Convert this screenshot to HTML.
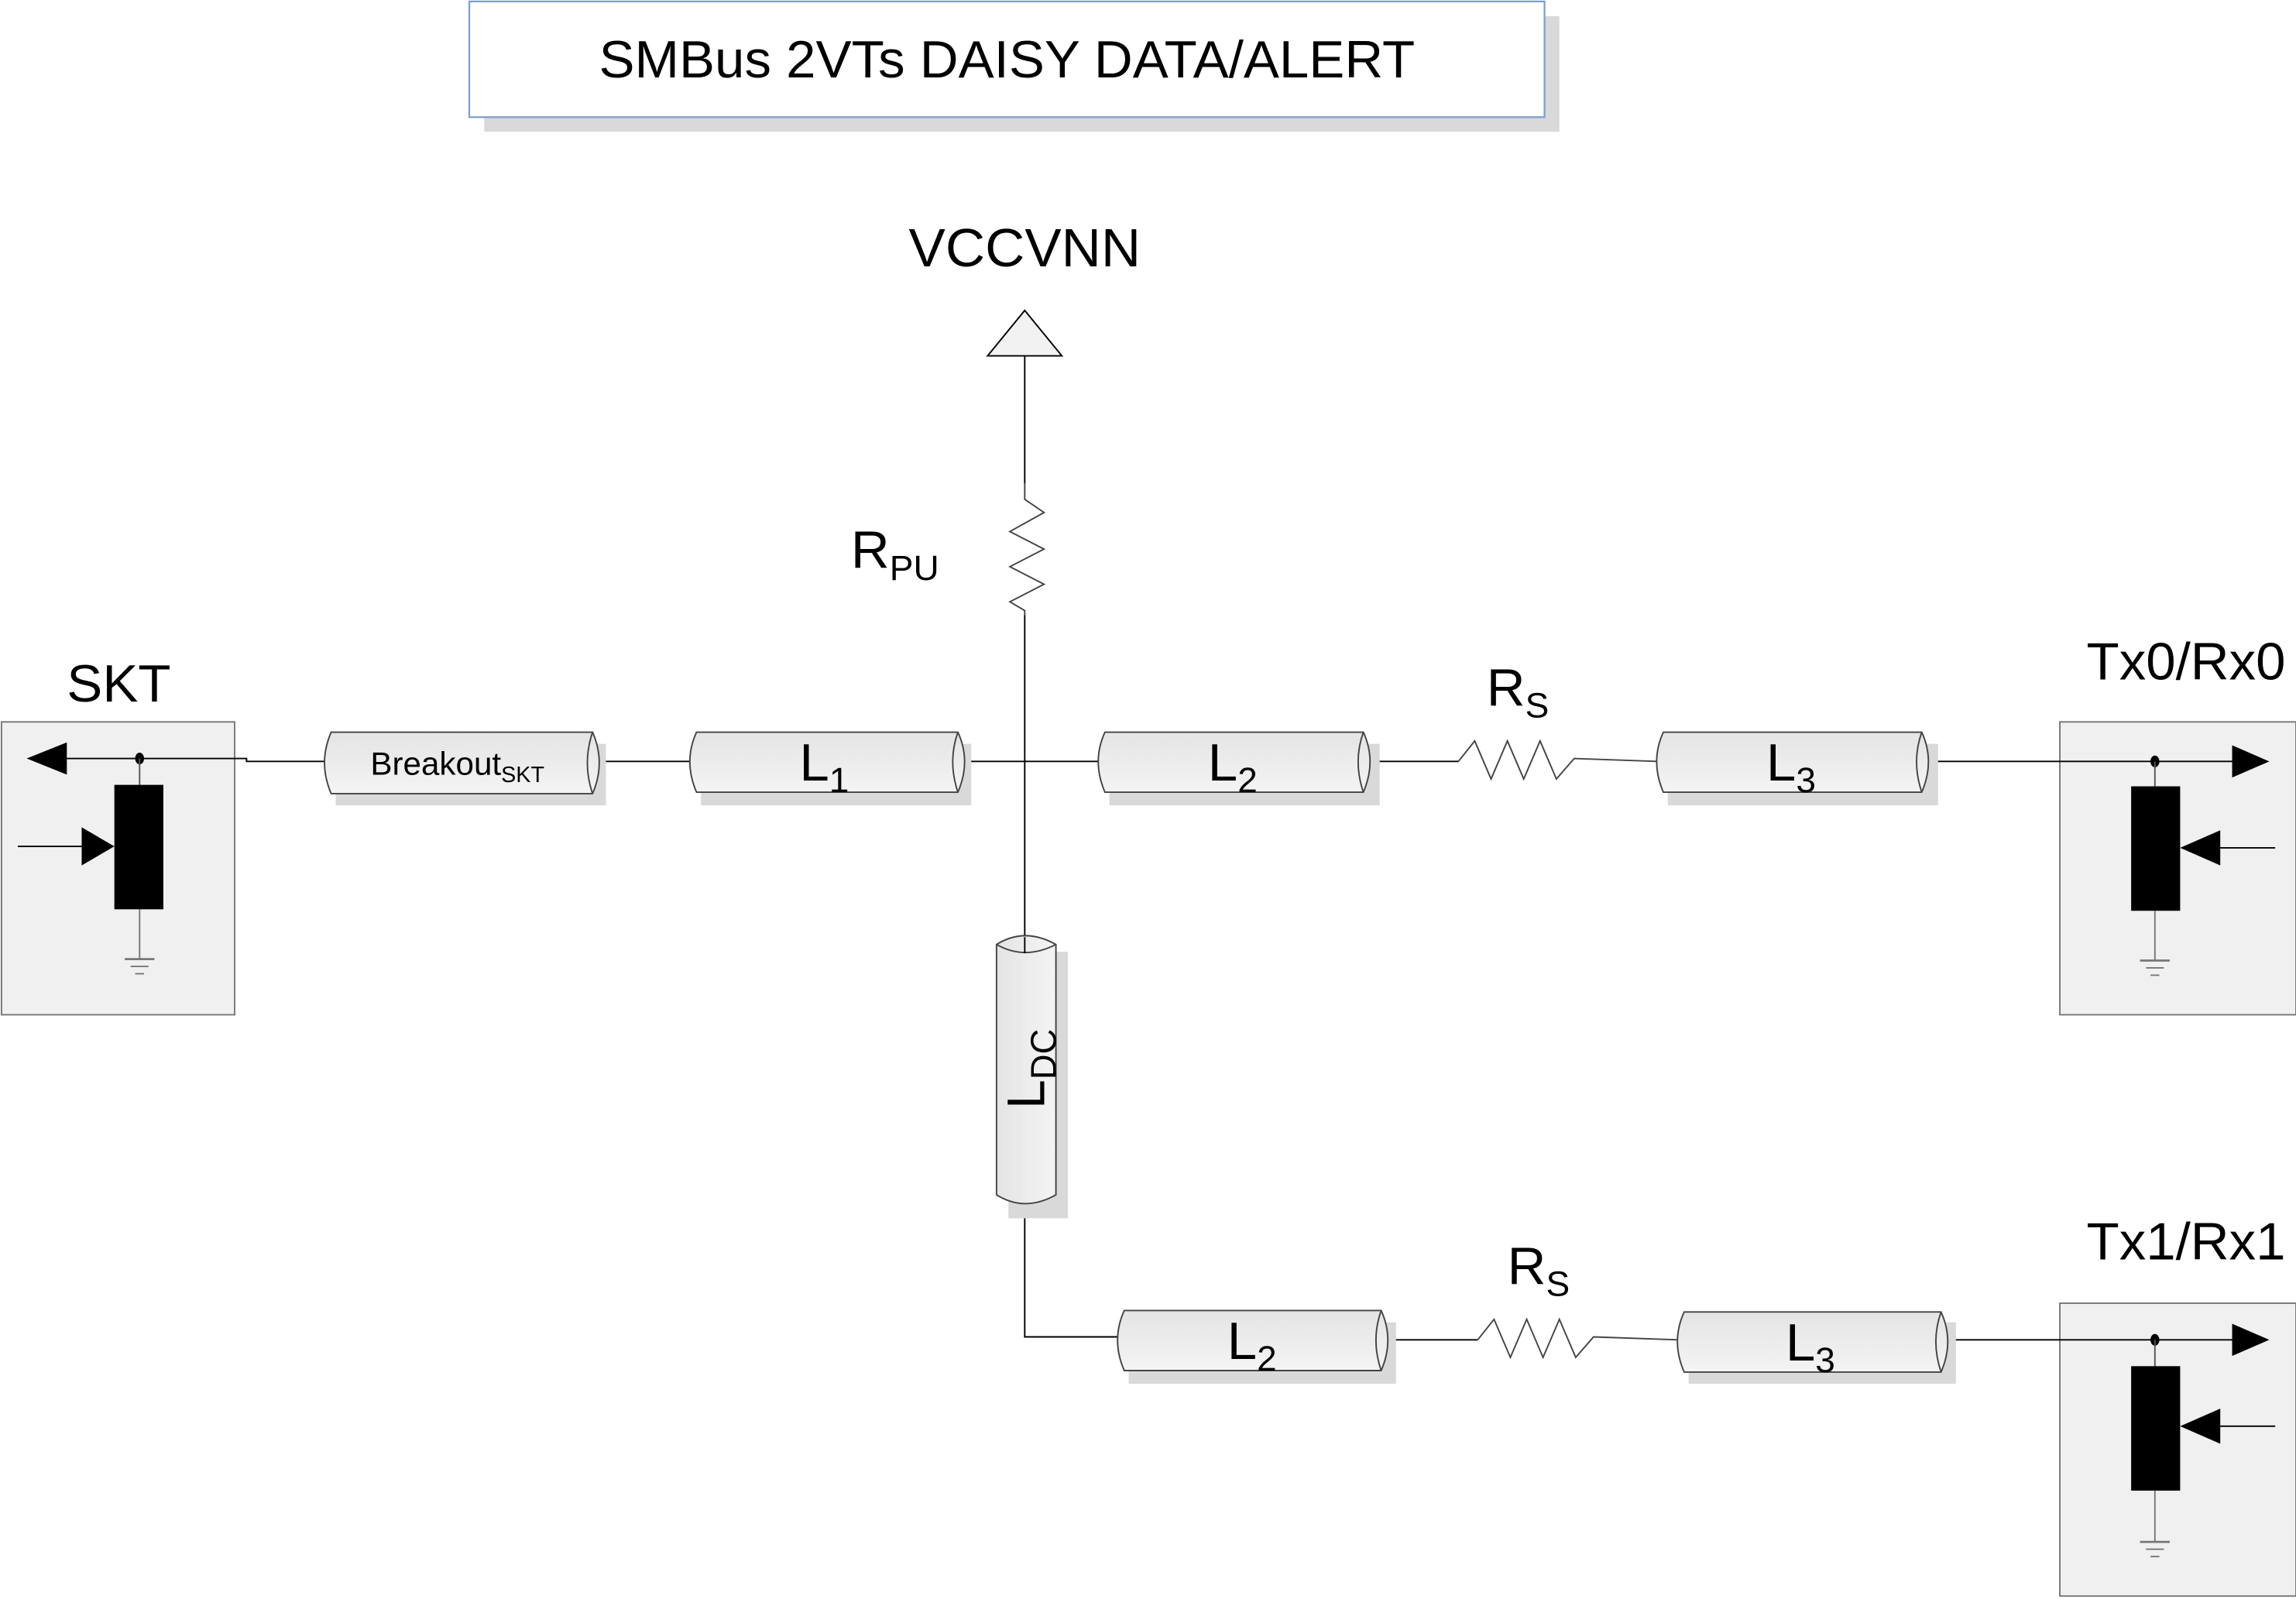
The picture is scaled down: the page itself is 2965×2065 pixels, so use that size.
<!DOCTYPE html>
<html><head><meta charset="utf-8"><style>
html,body{margin:0;padding:0;background:#fff;}
svg{display:block;}
text{font-family:"Liberation Sans Narrow","Liberation Sans",sans-serif;fill:#000;}
</style></head><body>
<svg width="2965" height="2065" viewBox="0 0 1546 1092" preserveAspectRatio="none" xmlns="http://www.w3.org/2000/svg">
<defs>
<linearGradient id="cg" x1="0" y1="0" x2="0" y2="1"><stop offset="0" stop-color="#e4e4e4"/><stop offset="1" stop-color="#f4f4f4"/></linearGradient>
<linearGradient id="cgv" x1="0" y1="0" x2="1" y2="0"><stop offset="0" stop-color="#e4e4e4"/><stop offset="1" stop-color="#f4f4f4"/></linearGradient>
</defs>
<!-- title -->
<rect x="326" y="11" width="724" height="79" fill="#d9d9d9"/>
<rect x="316" y="1" width="724" height="79" fill="#fff" stroke="#7f9fcf" stroke-width="1.2"/>
<text x="678" y="53" font-size="36" text-anchor="middle">SMBus 2VTs DAISY DATA/ALERT</text>

<!-- VCC -->
<text x="690" y="182" font-size="37" text-anchor="middle">VCCVNN</text>
<polygon points="690,212 665,243 715,243" fill="#f2f2f2" stroke="#000" stroke-width="1"/>
<line x1="690" y1="243" x2="690" y2="330" stroke="#000" stroke-width="1"/>
<polyline points="690,330 690,341 703,350 680,363 703,375 680,387 703,399 680,411 690,417 690,420" fill="none" stroke="#444" stroke-width="1"/>
<line x1="690" y1="420" x2="690" y2="642" stroke="#000" stroke-width="1"/>
<text x="573" y="388" font-size="36">R<tspan font-size="24" dy="8">PU</tspan></text>

<!-- SKT box -->
<text x="80" y="479" font-size="36" text-anchor="middle">SKT</text>
<rect x="1" y="493" width="157" height="200" fill="#f0f0f0" stroke="#777" stroke-width="1"/>
<line x1="40" y1="518" x2="158" y2="518" stroke="#000"/>
<polygon points="18,518 45,507 45,529" fill="#000"/>
<ellipse cx="94" cy="518" rx="3" ry="4" fill="#000"/>
<line x1="94" y1="518" x2="94" y2="536" stroke="#555"/>
<rect x="77" y="536" width="33" height="85" fill="#000"/>
<line x1="12" y1="578" x2="60" y2="578" stroke="#000"/>
<polygon points="77,578 55,565 55,591" fill="#000"/>
<line x1="94" y1="621" x2="94" y2="655" stroke="#777"/>
<line x1="84" y1="655" x2="104" y2="655" stroke="#777" stroke-width="1.5"/>
<line x1="88" y1="660" x2="100" y2="660" stroke="#777"/>
<line x1="91" y1="665" x2="97" y2="665" stroke="#777"/>
<polyline points="158,518 166,518 166,520 220,520" fill="none" stroke="#000"/>

<!-- Tx0 box -->
<text x="1472" y="464" font-size="36" text-anchor="middle">Tx0/Rx0</text>
<rect x="1387" y="493" width="159" height="200" fill="#f0f0f0" stroke="#777" stroke-width="1"/>
<line x1="1297" y1="520" x2="1505" y2="520" stroke="#000"/>
<polygon points="1528,520 1503,509 1503,531" fill="#000"/>
<ellipse cx="1451" cy="520" rx="3" ry="4" fill="#000"/>
<line x1="1451" y1="520" x2="1451" y2="537" stroke="#555"/>
<rect x="1435" y="537" width="33" height="85" fill="#000"/>
<line x1="1490" y1="579" x2="1532" y2="579" stroke="#000"/>
<polygon points="1468,579 1495,567 1495,591" fill="#000"/>
<line x1="1451" y1="622" x2="1451" y2="656" stroke="#777"/>
<line x1="1441" y1="656" x2="1461" y2="656" stroke="#777" stroke-width="1.5"/>
<line x1="1445" y1="661" x2="1457" y2="661" stroke="#777"/>
<line x1="1448" y1="666" x2="1454" y2="666" stroke="#777"/>

<!-- Tx1 box -->
<text x="1472" y="860" font-size="36" text-anchor="middle">Tx1/Rx1</text>
<rect x="1387" y="890" width="159" height="200" fill="#f0f0f0" stroke="#777" stroke-width="1"/>
<line x1="1310" y1="915" x2="1505" y2="915" stroke="#000"/>
<polygon points="1528,915 1503,904 1503,926" fill="#000"/>
<ellipse cx="1451" cy="915" rx="3" ry="4" fill="#000"/>
<line x1="1451" y1="915" x2="1451" y2="933" stroke="#555"/>
<rect x="1435" y="933" width="33" height="85" fill="#000"/>
<line x1="1490" y1="974" x2="1532" y2="974" stroke="#000"/>
<polygon points="1468,974 1495,962 1495,986" fill="#000"/>
<line x1="1451" y1="1018" x2="1451" y2="1053" stroke="#777"/>
<line x1="1441" y1="1053" x2="1461" y2="1053" stroke="#777" stroke-width="1.5"/>
<line x1="1445" y1="1058" x2="1457" y2="1058" stroke="#777"/>
<line x1="1448" y1="1063" x2="1454" y2="1063" stroke="#777"/>

<!-- wires row 1 -->
<line x1="402" y1="520" x2="465" y2="520" stroke="#000"/>
<line x1="648" y1="520" x2="740" y2="520" stroke="#000"/>
<line x1="921" y1="520" x2="982" y2="520" stroke="#000"/>
<polyline points="982,520 993,506 1004,532 1015,506 1026,532 1037,506 1048,532 1060,518 1116,520" fill="none" stroke="#444"/>
<text x="1022" y="482" font-size="36" text-anchor="middle">R<tspan font-size="24" dy="8">S</tspan></text>

<!-- wires row 2 -->
<polyline points="690,822 690,913 753,913" fill="none" stroke="#000"/>
<line x1="933" y1="915" x2="995" y2="915" stroke="#000"/>
<polyline points="995,915 1006,901 1017,927 1028,901 1039,927 1050,901 1061,927 1073,913 1130,915" fill="none" stroke="#444"/>
<text x="1036" y="877" font-size="36" text-anchor="middle">R<tspan font-size="24" dy="8">S</tspan></text>

<!-- cylinders horizontal -->
<g stroke="#444" stroke-width="1">
 <!-- Breakout -->
 <rect x="226" y="508" width="182" height="42" fill="#d9d9d9" stroke="none"/>
 <path d="M223,500 L399,500 Q408,521 399,542 L223,542 Q214,521 223,500 Z" fill="url(#cg)"/>
 <path d="M399,500 Q392,521 399,542" fill="none"/>
 <!-- L1 -->
 <rect x="472" y="508" width="182" height="42" fill="#d9d9d9" stroke="none"/>
 <path d="M469,500 L645,500 Q654,520 645,541 L469,541 Q460,520 469,500 Z" fill="url(#cg)"/>
 <path d="M645,500 Q638,520 645,541" fill="none"/>
 <!-- L2 -->
 <rect x="747" y="508" width="182" height="42" fill="#d9d9d9" stroke="none"/>
 <path d="M744,500 L918,500 Q927,520 918,541 L744,541 Q735,520 744,500 Z" fill="url(#cg)"/>
 <path d="M918,500 Q911,520 918,541" fill="none"/>
 <!-- L3 -->
 <rect x="1123" y="508" width="182" height="42" fill="#d9d9d9" stroke="none"/>
 <path d="M1120,500 L1294,500 Q1303,520 1294,541 L1120,541 Q1111,520 1120,500 Z" fill="url(#cg)"/>
 <path d="M1294,500 Q1287,520 1294,541" fill="none"/>
 <!-- L2 row2 -->
 <rect x="760" y="903" width="180" height="42" fill="#d9d9d9" stroke="none"/>
 <path d="M757,895 L930,895 Q939,915 930,936 L757,936 Q748,915 757,895 Z" fill="url(#cg)"/>
 <path d="M930,895 Q923,915 930,936" fill="none"/>
 <!-- L3 row2 -->
 <rect x="1137" y="903" width="180" height="42" fill="#d9d9d9" stroke="none"/>
 <path d="M1134,896 L1307,896 Q1316,916 1307,937 L1134,937 Q1125,916 1134,896 Z" fill="url(#cg)"/>
 <path d="M1307,896 Q1300,916 1307,937" fill="none"/>
 <!-- LDC vertical -->
 <rect x="679" y="650" width="40" height="182" fill="#d9d9d9" stroke="none"/>
 <path d="M671,645 Q690,633 711,645 L711,816 Q690,828 671,816 Z" fill="url(#cgv)"/>
 <path d="M671,645 Q690,656 711,645" fill="none"/>
</g>
<line x1="690" y1="640" x2="690" y2="651" stroke="#000"/>

<text x="308" y="529" font-size="22" text-anchor="middle">Breakout<tspan font-size="15" dy="5">SKT</tspan></text>
<text x="555" y="533" font-size="36" text-anchor="middle">L<tspan font-size="24" dy="8">1</tspan></text>
<text x="830" y="533" font-size="36" text-anchor="middle">L<tspan font-size="24" dy="8">2</tspan></text>
<text x="1206" y="533" font-size="36" text-anchor="middle">L<tspan font-size="24" dy="8">3</tspan></text>
<text x="843" y="928" font-size="36" text-anchor="middle">L<tspan font-size="24" dy="8">2</tspan></text>
<text x="1219" y="929" font-size="36" text-anchor="middle">L<tspan font-size="24" dy="8">3</tspan></text>
<text x="0" y="0" font-size="36" text-anchor="middle" transform="translate(703,730) rotate(-90)">L<tspan font-size="24" dy="8">DC</tspan></text>
</svg>
</body></html>
